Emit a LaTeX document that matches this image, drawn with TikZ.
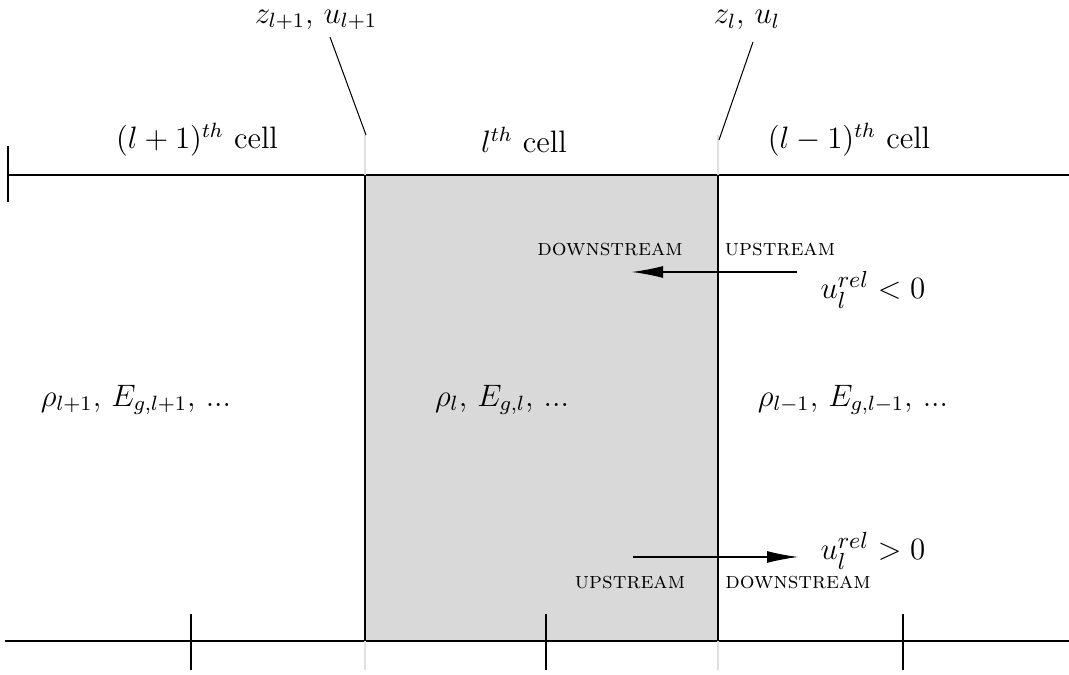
\documentclass[tikz,border=0pt]{standalone}
\usepackage{amsmath}
\usetikzlibrary{arrows.meta,positioning,calc}

\begin{document}
\begin{tikzpicture}[x=0.387pt, y=-0.387pt, >={Latex[length=12pt,width=4.6pt]}, font=\large,
    flow/.style={font=\small, inner sep=0pt},
    vel/.style={font=\fontsize{13}{15}\selectfont, inner sep=0pt, anchor=west}]
  \useasboundingbox (0,0) rectangle (1069,675);

  % cell boundaries
  \coordinate (bl) at (365,175);
  \coordinate (br) at (718,641);
  \fill[black!15] (bl) rectangle (br);
  \draw (8,175) -- (1069,175);
  \draw (5,641) -- (1069,641);
  \draw (8,146) -- (8,202);
  \draw (365,175) -- (365,641);
  \draw (718,175) -- (718,641);
  \foreach \x in {191,546,903}
    \draw (\x,614) -- (\x,670);
  \foreach \x in {365,718} {
    \draw[black!12] (\x,135) -- (\x,175);
    \draw[black!12] (\x,641) -- (\x,670);
  }

  % interface labels
  \node (zlp) at (316,20) {$z_{l+1}$, $u_{l+1}$};
  \node (zl) at (747,20) {$z_l$, $u_l$};
  \coordinate (zlpa) at (330,37);
  \coordinate (zlpb) at (366,135);
  \coordinate (zla) at (753,42);
  \coordinate (zlb) at (719,140);
  \draw (zlpa) -- (zlpb);
  \draw (zla) -- (zlb);

  % cell names
  \node (cellp) at (197,140) {$(l+1)^{th}$ cell};
  \node (cell) at (524,140) {$l^{th}$ cell};
  \node (cellm) at (849,140) {$(l-1)^{th}$ cell};

  % cell values
  \node (valp) at (136,400) {$\rho_{l+1}$, $E_{g,l+1}$, ...};
  \node (val) at (502,400) {$\rho_l$, $E_{g,l}$, ...};
  \node (valm) at (853,400) {$\rho_{l-1}$, $E_{g,l-1}$, ...};

  % negative velocity
  \node[flow] (dsneg) at (610,249) {\textsc{downstream}};
  \node[flow] (usneg) at (780,249) {\textsc{upstream}};
  \coordinate (negb) at (797,272);
  \coordinate (nega) at (632,272);
  \draw[->] (negb) -- (nega);
  \node[vel] (uneg) at (820,290) {$u_l^{rel} < 0$};

  % positive velocity
  \coordinate (posa) at (633,557);
  \coordinate (posb) at (798,557);
  \draw[->] (posa) -- (posb);
  \node[vel] (upos) at (820,551) {$u_l^{rel} > 0$};
  \node[flow] (uspos) at (630,582) {\textsc{upstream}};
  \node[flow] (dspos) at (798,582) {\textsc{downstream}};
\end{tikzpicture}
\end{document}
